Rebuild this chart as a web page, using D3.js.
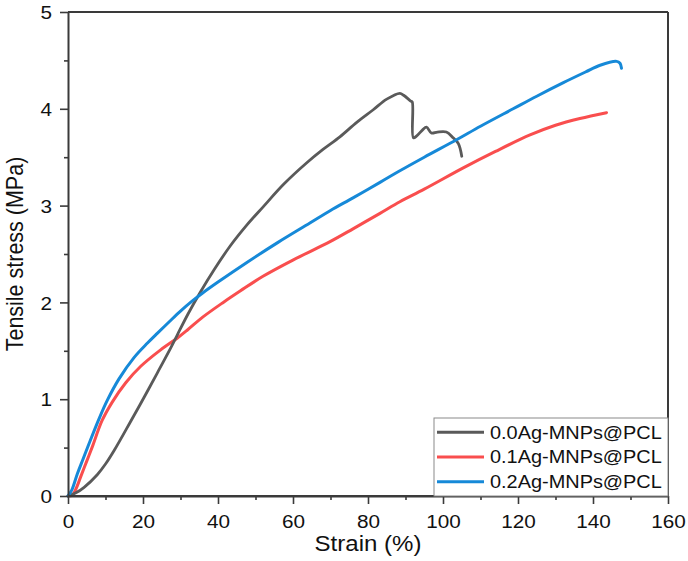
<!DOCTYPE html>
<html>
<head>
<meta charset="utf-8">
<script src="https://cdn.jsdelivr.net/npm/d3@7"></script>
<style>
  html, body { margin: 0; padding: 0; background: #fff; }
  svg { display: block; font-family: "Liberation Sans", Arial, sans-serif; }
</style>
</head>
<body>
<svg id="chart" width="688" height="561"></svg>
<script>
// ---- data ----
const seriesNames = ["0.0Ag-MNPs@PCL", "0.1Ag-MNPs@PCL", "0.2Ag-MNPs@PCL"];
const seriesColors = ["#5a5a5a", "#f94e4e", "#1689d8"];

const strain00 = [0, 2, 4.3, 7.8, 10, 12.3, 16.7, 20.3, 23.8, 27.4, 29.1, 32, 35.2, 39, 43.2, 47.5, 52.1, 57.5, 63.6, 68, 72.5, 77, 81.4, 85, 88.5, 89.5, 91.4, 91.8, 92.1, 93, 94.5, 95.6, 96.9, 98.5, 100.9, 102.7, 104.1, 105];
const stress00 = [0, 0.03, 0.09, 0.22, 0.33, 0.47, 0.77, 1.02, 1.27, 1.53, 1.66, 1.88, 2.1, 2.34, 2.58, 2.79, 2.99, 3.22, 3.44, 3.58, 3.71, 3.86, 3.99, 4.1, 4.16, 4.14, 4.08, 4.07, 3.70, 3.72, 3.78, 3.81, 3.75, 3.76, 3.76, 3.70, 3.64, 3.51];

const strain01 = [0, 1.2, 2.2, 3.4, 5, 6.5, 9.1, 11.8, 15.4, 19.4, 24.7, 29.1, 32, 36, 41.4, 46, 52, 60.1, 70, 76, 83.2, 88.5, 95, 105.4, 114, 123.2, 130, 136.5, 143.6];
const stress01 = [0, 0.01, 0.08, 0.2, 0.36, 0.51, 0.78, 0.97, 1.17, 1.34, 1.51, 1.63, 1.72, 1.85, 2.0, 2.12, 2.27, 2.44, 2.63, 2.76, 2.92, 3.04, 3.17, 3.39, 3.56, 3.73, 3.83, 3.90, 3.96];

const strain02 = [0, 1, 2.5, 4, 5.6, 8.3, 10.5, 13.6, 17.6, 21.2, 23.8, 27, 30, 33, 36, 40, 47.6, 56, 64.5, 70, 76, 83.2, 88.5, 95, 103.6, 110, 118.7, 125, 132.1, 138, 141.9, 146.3, 147.2, 147.6];
const stress02 = [0, 0.06, 0.23, 0.38, 0.54, 0.8, 0.99, 1.21, 1.43, 1.58, 1.68, 1.8, 1.91, 2.01, 2.1, 2.21, 2.41, 2.62, 2.82, 2.95, 3.08, 3.24, 3.36, 3.5, 3.68, 3.82, 4.0, 4.13, 4.27, 4.38, 4.45, 4.49, 4.47, 4.42];

const xTicks = [0, 20, 40, 60, 80, 100, 120, 140, 160];
const yTicks = [0, 1, 2, 3, 4, 5];
const xTitle = "Strain (%)";
const yTitle = "Tensile stress (MPa)";

// ---- layout ----
const W = 688, H = 561;
const margin = { left: 68, right: 20, top: 12, bottom: 65 };
const pw = W - margin.left - margin.right;
const ph = H - margin.top - margin.bottom;
const SX = 1.12; // horizontal text stretch seen in the reference
const axisColor = "#3a3a3a";

const svg = d3.select("#chart");
const g = svg.append("g").attr("transform", `translate(${margin.left},${margin.top})`);

const x = d3.scaleLinear().domain([0, 160]).range([0, pw]);
const y = d3.scaleLinear().domain([0, 5]).range([ph, 0]);

const series = [
  { name: seriesNames[0], color: seriesColors[0], xs: strain00, ys: stress00, w: 2.8 },
  { name: seriesNames[1], color: seriesColors[1], xs: strain01, ys: stress01, w: 3 },
  { name: seriesNames[2], color: seriesColors[2], xs: strain02, ys: stress02, w: 3 }
];

const line = d3.line().x(d => x(d[0])).y(d => y(d[1])).curve(d3.curveCatmullRom.alpha(0.5));

// draw order: red, gray, blue
[1, 0, 2].forEach(i => {
  const s = series[i];
  g.append("path")
    .datum(s.xs.map((v, k) => [v, s.ys[k]]))
    .attr("fill", "none")
    .attr("stroke", s.color)
    .attr("stroke-width", s.w)
    .attr("stroke-linejoin", "round")
    .attr("stroke-linecap", "round")
    .attr("d", line);
});

// ---- axes ----
const xAxisMinor = d3.axisBottom(x).tickValues(d3.range(10, 160, 20)).tickSize(4).tickFormat("");
const yAxisMinor = d3.axisLeft(y).tickValues(d3.range(0.5, 5, 1)).tickSize(4).tickFormat("");
const xAxis = d3.axisBottom(x).tickValues(xTicks).tickSize(8).tickSizeOuter(0).tickFormat(d3.format("d"));
const yAxis = d3.axisLeft(y).tickValues(yTicks).tickSize(8).tickSizeOuter(0).tickFormat(d3.format("d"));

function styleAxis(sel) {
  sel.select(".domain").attr("stroke", axisColor).attr("stroke-width", 2);
  sel.selectAll(".tick line").attr("stroke", axisColor).attr("stroke-width", 1.6);
}

const gxm = g.append("g").attr("transform", `translate(0,${ph})`).call(xAxisMinor);
gxm.select(".domain").remove();
gxm.selectAll(".tick line").attr("stroke", axisColor).attr("stroke-width", 1.6);
const gym = g.append("g").call(yAxisMinor);
gym.select(".domain").remove();
gym.selectAll(".tick line").attr("stroke", axisColor).attr("stroke-width", 1.6);

const gx = g.append("g").attr("transform", `translate(0,${ph})`).call(xAxis);
styleAxis(gx);
gx.selectAll(".tick text")
  .attr("y", 32).attr("dy", 0)
  .attr("font-size", 18.5)
  .attr("fill", "#111")
  .attr("font-family", "Liberation Sans, Arial, sans-serif")
  .attr("transform", `scale(${SX},1)`);

const gy = g.append("g").call(yAxis);
styleAxis(gy);
gy.selectAll(".tick text")
  .attr("x", -16 / SX).attr("dy", "0.36em")
  .attr("font-size", 18.5)
  .attr("fill", "#111")
  .attr("font-family", "Liberation Sans, Arial, sans-serif")
  .attr("transform", `scale(${SX},1)`);

// frame top & right
g.append("line").attr("x1", 0).attr("x2", pw).attr("y1", 0).attr("y2", 0)
  .attr("stroke", axisColor).attr("stroke-width", 2);
g.append("line").attr("x1", pw).attr("x2", pw).attr("y1", 0).attr("y2", ph)
  .attr("stroke", axisColor).attr("stroke-width", 2);

// ---- titles ----
svg.append("text")
  .attr("transform", `translate(${margin.left + pw / 2},551) scale(${SX},1)`)
  .attr("text-anchor", "middle")
  .attr("font-size", 21.5)
  .attr("fill", "#111")
  .text(xTitle);

svg.append("text")
  .attr("transform", `translate(23,${margin.top + ph / 2}) scale(${SX},1) rotate(-90)`)
  .attr("text-anchor", "middle")
  .attr("font-size", 21.5)
  .attr("fill", "#111")
  .text(yTitle);

// ---- legend ----
const lg = svg.append("g");
const lx0 = 434, ly0 = 418, lx1 = margin.left + pw, ly1 = margin.top + ph;
lg.append("rect")
  .attr("x", lx0).attr("y", ly0)
  .attr("width", lx1 - lx0).attr("height", ly1 - ly0)
  .attr("fill", "#fff")
  .attr("stroke", "#8a8a8a")
  .attr("stroke-width", 1);
series.forEach((s, i) => {
  const yy = 432.3 + i * 24.7;
  lg.append("line")
    .attr("x1", 437).attr("x2", 484)
    .attr("y1", yy).attr("y2", yy)
    .attr("stroke", s.color).attr("stroke-width", 3);
  lg.append("text")
    .attr("transform", `translate(490,${yy + 6.2}) scale(${SX},1)`)
    .attr("font-size", 17.8)
    .attr("fill", "#111")
    .text(s.name);
});
g.append("line").attr("x1", pw).attr("x2", pw).attr("y1", 0).attr("y2", ph)
  .attr("stroke", axisColor).attr("stroke-width", 2);
g.append("line").attr("x1", 0).attr("x2", pw).attr("y1", ph).attr("y2", ph)
  .attr("stroke", axisColor).attr("stroke-width", 2);
</script>
</body>
</html>
